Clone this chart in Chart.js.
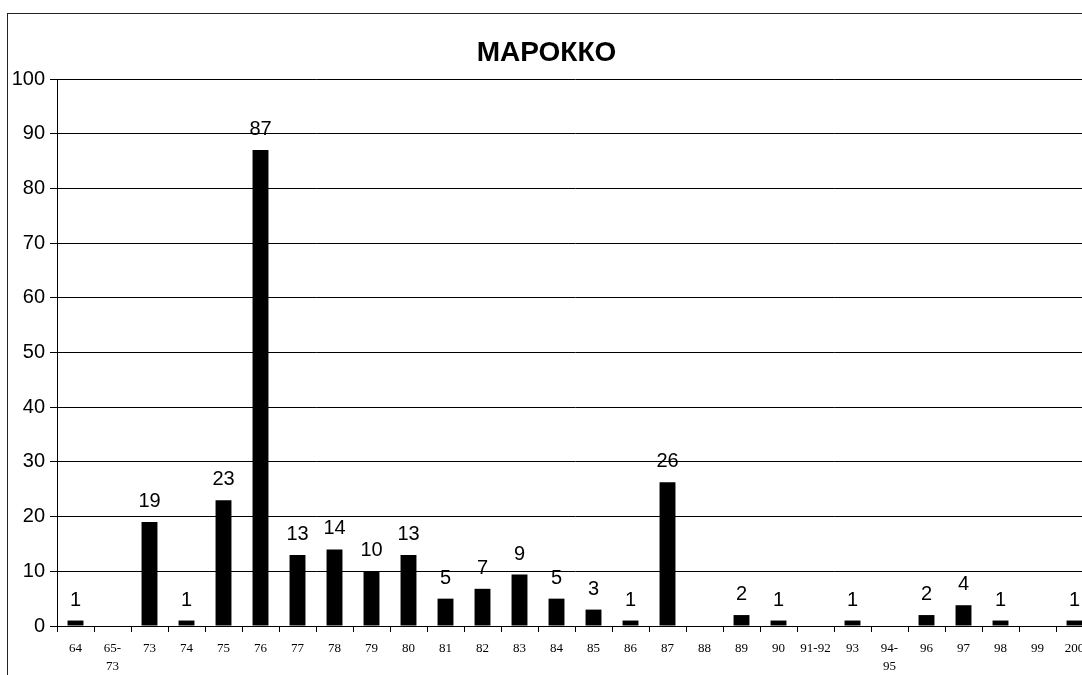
<!DOCTYPE html>
<html>
<head>
<meta charset="utf-8">
<script src="https://cdn.jsdelivr.net/npm/chart.js@4/dist/chart.umd.min.js"></script>
<style>
  html, body { margin: 0; padding: 0; background: #fff; overflow: hidden; width: 1082px; height: 675px; }
  #c { position: absolute; left: 0; top: 0; }
</style>
</head>
<body>
<canvas id="c" width="1100" height="675"></canvas>
<script>
const chartTitle = "МАРОККО";
const categories = ["64", ["65-", "73"], "73", "74", "75", "76", "77", "78", "79", "80", "81", "82", "83", "84", "85", "86", "87", "88", "89", "90", "91-92", "93", ["94-", "95"], "96", "97", "98", "99", "200"];
const values = [1, 0, 19, 1, 23, 87, 13, 14, 10, 13, 5, 6.8, 9.4, 5, 3, 1, 26.3, 0, 2, 1, 0, 1, 0, 2, 3.8, 1, 0, 1];
const yMin = 0, yMax = 100, yStep = 10;

const frame = {
  id: 'frame',
  beforeDraw(chart) {
    const ctx = chart.ctx;
    ctx.save();
    ctx.fillStyle = '#fff';
    ctx.fillRect(0, 0, chart.width, chart.height);
    ctx.strokeStyle = '#222';
    ctx.lineWidth = 1;
    ctx.strokeRect(7.5, 13.5, 1200, 800);
    ctx.restore();
  }
};

const valueLabels = {
  id: 'valueLabels',
  afterDatasetsDraw(chart) {
    const ctx = chart.ctx;
    const meta = chart.getDatasetMeta(0);
    const data = chart.data.datasets[0].data;
    ctx.save();
    ctx.fillStyle = '#000';
    ctx.font = '20px "Liberation Sans", Arial, sans-serif';
    ctx.textAlign = 'center';
    ctx.textBaseline = 'alphabetic';
    meta.data.forEach((bar, i) => {
      const v = data[i];
      if (!v) return;
      ctx.fillText(String(Math.round(v)), bar.x, bar.y - 15);
    });
    ctx.restore();
  }
};

new Chart(document.getElementById('c'), {
  type: 'bar',
  data: {
    labels: categories,
    datasets: [{
      data: values,
      backgroundColor: '#000',
      borderWidth: 0,
      barPercentage: 0.43,
      categoryPercentage: 1.0
    }]
  },
  plugins: [frame, valueLabels],
  options: {
    responsive: false,
    animation: false,
    devicePixelRatio: 1,
    layout: { padding: { left: 0, right: 7, top: 0, bottom: 0 } },
    plugins: {
      legend: { display: false },
      tooltip: { enabled: false },
      title: {
        display: true,
        text: chartTitle,
        color: '#000',
        font: { family: '"Liberation Sans", Arial, sans-serif', size: 28, weight: 'bold', lineHeight: 1.2 },
        padding: { top: 36, bottom: 9.4 }
      }
    },
    scales: {
      x: {
        grid: {
          offset: true,
          drawOnChartArea: false,
          drawTicks: true,
          tickLength: 6,
          color: '#000',
          lineWidth: 1
        },
        border: { display: true, color: '#000', width: 1 },
        ticks: {
          autoSkip: false,
          maxRotation: 0,
          minRotation: 0,
          padding: 7,
          color: '#000',
          font: { family: '"Liberation Serif", "Times New Roman", serif', size: 13, lineHeight: 1.4 }
        },
        afterFit(scale) { scale.height = 49; }
      },
      y: {
        min: yMin,
        max: yMax,
        grid: {
          drawOnChartArea: true,
          drawTicks: true,
          tickLength: 7,
          color: '#000',
          lineWidth: 1
        },
        border: { display: true, color: '#000', width: 1 },
        ticks: {
          stepSize: yStep,
          padding: 5,
          color: '#000',
          font: { family: '"Liberation Sans", Arial, sans-serif', size: 20 }
        },
        afterFit(scale) { scale.width = 57; }
      }
    }
  }
});
</script>
</body>
</html>
